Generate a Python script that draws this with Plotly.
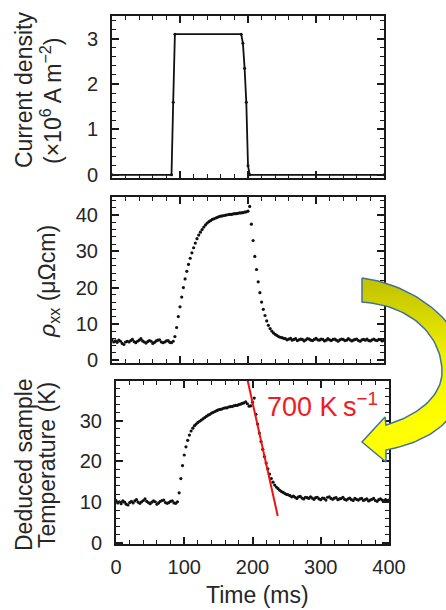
import numpy as np
import plotly.graph_objects as go

# ---------------- data ----------------
# current density pulse (x10^6 A m^-2)
cur_t = [0, 87.5, 90, 92.5, 190, 192.5, 195, 197.5, 200, 202.5, 400]
cur_j = [0, 0, 1.6, 3.1, 3.1, 2.9, 2.35, 1.6, 0.2, 0, 0]

# sample times (ms), 2.5 ms sampling
time_ms = np.arange(0, 400.01, 2.5)

rho_pre = [5.6, 5.0, 5.3, 4.9, 5.5, 5.2, 4.6, 4.3, 5.0, 5.2,
           5.0, 5.4, 5.7, 5.1, 4.8, 5.2, 5.5, 5.9, 5.3, 5.0,
           4.7, 5.1, 5.4, 5.2, 4.6, 4.9, 5.3, 5.5, 5.6, 5.0,
           4.8, 5.0, 5.3, 5.4, 4.9, 4.8, 5.2]
rho_pulse = [6.5, 9.0, 12.0, 14.7, 17.4, 20.0, 22.4, 24.5, 26.4, 28.1,
             29.6, 31.0, 32.3, 33.5, 34.5, 35.3, 36.0, 36.7, 37.3, 37.8,
             38.2, 38.5, 38.8, 39.0, 39.2, 39.4, 39.6, 39.7, 39.8, 39.9,
             40.0, 40.1, 40.2, 40.2, 40.3, 40.4, 40.4, 40.5, 40.6, 40.6,
             40.7, 40.8, 40.9, 41.1, 42.4, 37.5, 33.0, 28.6, 25.0, 21.6,
             18.6, 16.0, 14.0, 12.3, 10.8, 9.6, 8.7, 8.0, 7.5, 7.1,
             6.8, 6.5, 6.3, 6.2, 6.0]
rho_post = [5.9, 5.6, 5.8, 6.0, 5.5, 5.7, 5.9, 5.4, 5.6, 5.8,
            5.7, 5.3, 5.6, 5.9, 5.8, 5.5, 5.4, 5.7, 6.0, 5.6,
            5.5, 5.8, 5.7, 5.3, 5.5, 5.9, 5.6, 5.4, 5.7, 5.8,
            5.5, 5.2, 5.6, 5.8, 5.7, 5.4, 5.5, 5.9, 5.6, 5.3,
            5.5, 5.7, 5.8, 5.4, 5.2, 5.6, 5.7, 5.5, 5.8, 5.4,
            5.3, 5.6, 5.8, 5.5, 5.4, 5.7, 5.6, 5.3, 5.5]
rho_xx = rho_pre + rho_pulse + rho_post

temp_pre = [10.4, 9.8, 10.1, 9.6, 10.3, 10.0, 9.5, 9.3, 9.9, 10.2,
            9.8, 10.3, 10.6, 10.0, 9.7, 10.1, 10.4, 10.8, 10.2, 9.9,
            9.6, 10.0, 10.3, 10.1, 9.5, 9.8, 10.2, 10.4, 10.5, 9.9,
            9.7, 9.9, 10.2, 10.3, 9.8, 9.7, 10.1]
temp_pulse = [12.3, 15.8, 19.0, 21.6, 23.6, 25.2, 26.5, 27.5, 28.2, 28.8,
              29.2, 29.6, 29.9, 30.2, 30.5, 30.8, 31.1, 31.4, 31.6, 31.9,
              32.1, 32.3, 32.5, 32.7, 32.8, 32.9, 33.1, 33.2, 33.2, 33.4,
              33.5, 33.5, 33.7, 33.8, 33.8, 34.0, 34.1, 34.3, 34.4, 34.7,
              34.2, 33.6, 33.7, 34.6, 35.6, 31.6, 29.2, 27.0, 24.9, 23.0,
              21.2, 19.6, 18.2, 16.9, 15.8, 14.9, 14.2, 13.7, 13.3, 12.9,
              12.6, 12.4, 12.1, 11.9, 11.8]
temp_post = [11.6, 11.3, 11.5, 11.2, 10.9, 11.3, 11.4, 11.0, 10.8, 11.2,
             11.1, 10.9, 11.3, 11.0, 10.7, 11.1, 11.2, 10.8, 10.6, 11.0,
             10.9, 10.5, 11.2, 11.3, 10.9, 10.7, 11.0, 11.1, 10.6, 10.8,
             10.9, 11.2, 10.7, 10.5, 10.8, 11.0, 10.6, 10.4, 10.9, 10.7,
             10.5, 10.8, 10.9, 10.4, 10.6, 10.8, 10.3, 10.5, 10.7, 10.9,
             10.4, 10.2, 10.6, 10.8, 10.5, 10.3, 10.6, 10.4, 10.5]
temp_K = temp_pre + temp_pulse + temp_post

# cooling-rate guide line (700 K/s)
fit_t = [192, 237]
fit_T = [40.6, 6.6]

assert len(rho_xx) == len(time_ms) == len(temp_K)

# ---------------- figure ----------------
W, H = 446, 610
FONT = "Liberation Sans, Arial, sans-serif"
TXT = "#262626"
AX = "#1a1a1a"

def px(x):
    return x / W

def py(y):
    return 1 - y / H

fig = go.Figure()

fig.add_trace(go.Scatter(x=cur_t, y=cur_j, xaxis="x", yaxis="y", mode="lines+markers",
                         line=dict(color="#111", width=1.8),
                         marker=dict(color="#111", size=3), showlegend=False))
fig.add_trace(go.Scatter(x=time_ms, y=rho_xx, xaxis="x2", yaxis="y2", mode="markers",
                         marker=dict(color="#111", size=3.2), showlegend=False))
fig.add_trace(go.Scatter(x=time_ms, y=temp_K, xaxis="x3", yaxis="y3", mode="markers",
                         marker=dict(color="#111", size=3.2), showlegend=False))
fig.add_trace(go.Scatter(x=fit_t, y=fit_T, xaxis="x3", yaxis="y3", mode="lines",
                         line=dict(color="#ee1111", width=2), showlegend=False))

# decorative curved arrow (pixel geometry on an invisible overlay axis)
def bez(p0, p1, p2, p3, n=40):
    t = np.linspace(0, 1, n)[:, None]
    p0, p1, p2, p3 = map(np.array, (p0, p1, p2, p3))
    return ((1 - t) ** 3) * p0 + 3 * ((1 - t) ** 2) * t * p1 + 3 * (1 - t) * t ** 2 * p2 + t ** 3 * p3

segs = [
    bez((362, 278), (410, 284), (466, 320), (466, 372)),
    bez((466, 372), (466, 410), (440, 440), (386, 450)),
    np.array([(386, 462), (362, 442), (385, 417)]),
    bez((386, 425), (420, 415), (442, 395), (442, 372)),
    bez((442, 372), (442, 335), (410, 305), (362, 302)),
    np.array([(362, 278)]),
]
arrow = np.vstack(segs)
fig.add_trace(go.Scatter(x=arrow[:, 0], y=arrow[:, 1], xaxis="x4", yaxis="y4", mode="lines",
                         fill="toself",
                         fillgradient=dict(type="vertical",
                                           colorscale=[[0, "#c4c400"], [0.5, "#eeee00"], [1, "#ffff00"]],
                                           start=285, stop=420),
                         line=dict(color="#41719c", width=1.5), hoverinfo="skip",
                         showlegend=False))

common = dict(showline=True, linewidth=2, linecolor=AX, mirror="ticks", ticks="inside",
              ticklen=7, tickwidth=1.5, tickcolor=AX, showgrid=False, zeroline=False,
              tickfont=dict(family=FONT, size=20, color=TXT), automargin=False)

xdom12 = [px(112), px(384)]
xdom3 = [px(116), px(389)]

fig.update_layout(
    width=W, height=H, margin=dict(l=0, r=0, t=0, b=0),
    paper_bgcolor="white", plot_bgcolor="rgba(0,0,0,0)",
    xaxis=dict(common, domain=xdom12, anchor="y", range=[0, 400], dtick=100, showticklabels=False,
               minor=dict(dtick=20, ticks="inside", ticklen=4, tickwidth=1.2, tickcolor=AX)),
    yaxis=dict(common, domain=[py(178), py(16)], anchor="x", range=[-0.07, 3.5], dtick=1,
               ticklabelstandoff=8,
               minor=dict(dtick=0.2, ticks="inside", ticklen=4, tickwidth=1.2, tickcolor=AX)),
    xaxis2=dict(common, domain=xdom12, anchor="y2", range=[0, 400], dtick=100, showticklabels=False,
                minor=dict(dtick=20, ticks="inside", ticklen=4, tickwidth=1.2, tickcolor=AX)),
    yaxis2=dict(common, domain=[py(363), py(197)], anchor="x2", range=[-0.8, 45], dtick=10,
                ticklabelstandoff=8,
                minor=dict(dtick=2, ticks="inside", ticklen=4, tickwidth=1.2, tickcolor=AX)),
    xaxis3=dict(common, domain=xdom3, anchor="y3", range=[0, 400], dtick=100,
                ticklabelstandoff=4,
                minor=dict(dtick=20, ticks="inside", ticklen=4, tickwidth=1.2, tickcolor=AX)),
    yaxis3=dict(common, domain=[py(544), py(381)], anchor="x3", range=[-0.3, 39.8], dtick=10,
                ticklabelstandoff=8,
                minor=dict(dtick=2, ticks="inside", ticklen=4, tickwidth=1.2, tickcolor=AX)),
    xaxis4=dict(domain=[0, 1], range=[0, W], visible=False, anchor="y4", fixedrange=True),
    yaxis4=dict(domain=[0, 1], range=[H, 0], visible=False, anchor="x4", fixedrange=True),
)

def ann(text, x, y, size=23, angle=0, color=TXT, xanchor="center"):
    fig.add_annotation(text=text, x=px(x), y=py(y), xref="paper", yref="paper",
                       showarrow=False, textangle=angle, xanchor=xanchor, yanchor="middle",
                       font=dict(family=FONT, size=size, color=color))

ann("Current density", 24, 90, angle=-90)
ann("(×10<sup>6</sup> A m<sup>−2</sup>)", 51, 101, angle=-90)
ann("<i>ρ</i><sub>xx</sub> (μΩcm)", 48, 282, angle=-90)
ann("Deduced sample", 24, 465, angle=-90)
ann("Temperature (K)", 47, 465, angle=-90)
ann("Time (ms)", 257, 595)
ann("700 K\u2009s<sup>−1</sup>", 265, 405, size=27, color="#ee1c24", xanchor="left")

fig.write_html("out.html")
